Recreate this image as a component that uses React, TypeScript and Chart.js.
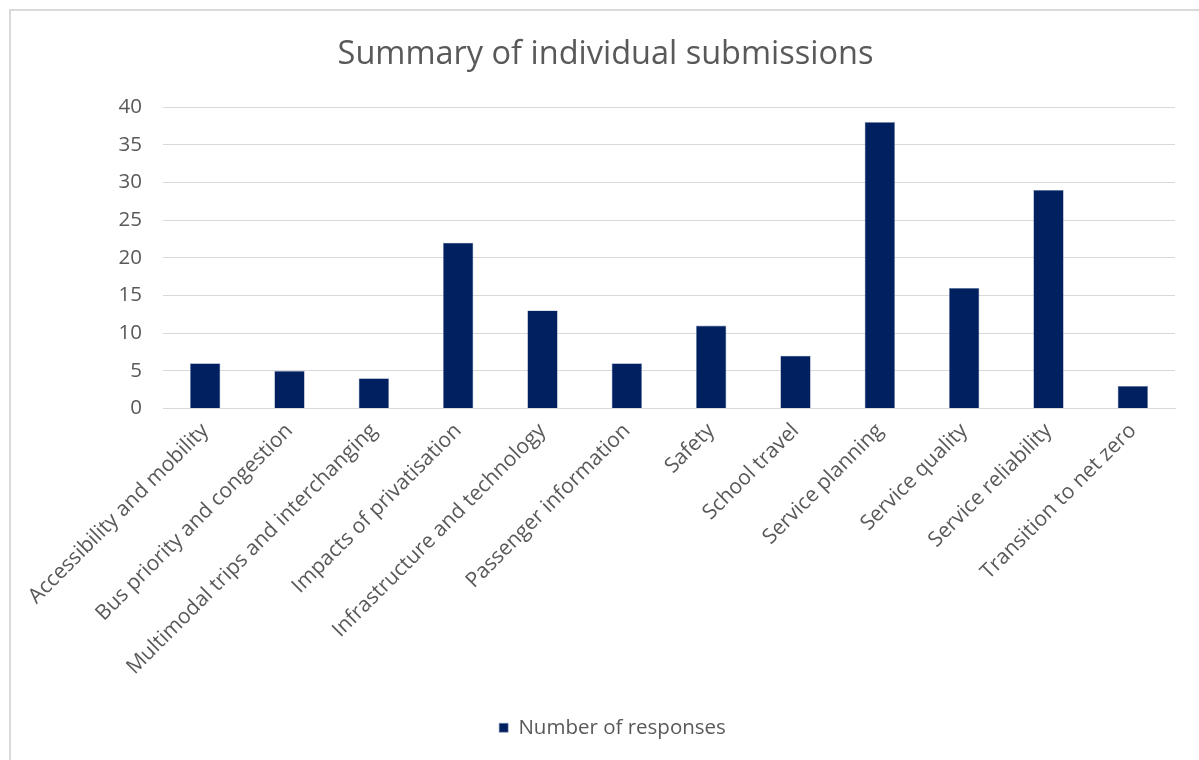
import React, { useEffect, useRef } from "react";
import { Chart, registerables } from "chart.js";

Chart.register(...registerables);

const categories = [
  "Accessibility and mobility",
  "Bus priority and congestion",
  "Multimodal trips and interchanging",
  "Impacts of privatisation",
  "Infrastructure and technology",
  "Passenger information",
  "Safety",
  "School travel",
  "Service planning",
  "Service quality",
  "Service reliability",
  "Transition to net zero",
];

const responses = [6, 5, 4, 22, 13, 6, 11, 7, 38, 16, 29, 3];

const seriesLabel = "Number of responses";
const chartTitle = "Summary of individual submissions";

const FONT = "'Open Sans', 'DejaVu Sans', sans-serif";
const TEXT = "#595959";
const GRID = "#d9d9d9";
const BAR = "#002060";

const boxShift = {
  id: "boxShift",
  afterLayout(chart: any) {
    const lg = chart.legend;
    if (lg) {
      lg.left += 20;
      lg.right += 20;
    }
    const tb = chart.titleBlock;
    if (tb) {
      tb.left += 13;
      tb.right += 13;
    }
  },
};

export default function App() {
  const canvasRef = useRef<HTMLCanvasElement | null>(null);

  useEffect(() => {
    if (!canvasRef.current) return;
    const chart = new Chart(canvasRef.current, {
      type: "bar",
      data: {
        labels: categories,
        datasets: [
          {
            label: seriesLabel,
            data: responses,
            backgroundColor: BAR,
            borderColor: "#7f8fb0",
            borderWidth: 0.6,
            barPercentage: 0.36,
            categoryPercentage: 1,
          },
        ],
      },
      plugins: [boxShift],
      options: {
        responsive: false,
        maintainAspectRatio: false,
        animation: false,
        layout: { padding: { left: 10, right: 24, top: 21, bottom: 12 } },
        plugins: {
          title: {
            display: true,
            text: chartTitle,
            color: TEXT,
            font: { family: FONT, size: 32.5, weight: "normal" },
            padding: { top: 14, bottom: 33 },
          },
          legend: {
            display: true,
            position: "bottom",
            labels: {
              color: TEXT,
              font: { family: FONT, size: 20.5 },
              boxWidth: 9,
              boxHeight: 9,
              padding: 10,
            },
          },
          tooltip: { enabled: false },
        },
        scales: {
          x: {
            grid: { display: false, drawTicks: false },
            border: { display: true, color: GRID, width: 1 },
            ticks: {
              color: TEXT,
              font: { family: FONT, size: 21 },
              minRotation: 45,
              maxRotation: 45,
              autoSkip: false,
              padding: 10,
            },
            afterFit: (scale: any) => {
              scale.height = 299;
            },
          },
          y: {
            min: 0,
            max: 40,
            grid: { color: GRID, lineWidth: 1, drawTicks: false },
            border: { display: false },
            ticks: {
              stepSize: 5,
              color: TEXT,
              font: { family: FONT, size: 20.5 },
              padding: 21,
            },
            afterFit: (scale: any) => {
              scale.width = 153;
            },
          },
        },
      },
    });
    return () => chart.destroy();
  }, []);

  return (
    <div style={{ position: "absolute", left: 0, top: 0, width: 1199, height: 760, background: "#fff", overflow: "hidden" }}>
      <div
        style={{
          position: "absolute",
          left: 9,
          top: 9,
          width: 1200,
          height: 760,
          borderTop: "2px solid #d9d9d9",
          borderLeft: "2px solid #d9d9d9",
        }}
      />
      <canvas ref={canvasRef} width={1199} height={760} style={{ position: "absolute", left: 0, top: 0, width: 1199, height: 760 }} />
    </div>
  );
}
